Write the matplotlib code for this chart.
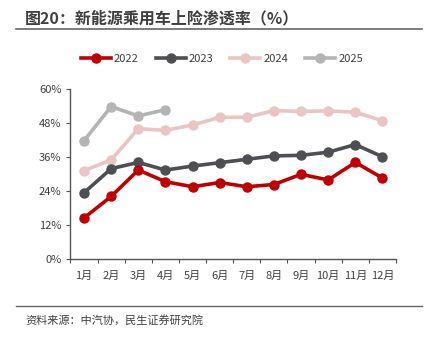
import matplotlib.pyplot as plt
from matplotlib.lines import Line2D

plt.rcParams['font.family'] = ['Noto Sans CJK SC', 'DejaVu Sans']

months = ['1月', '2月', '3月', '4月', '5月', '6月', '7月', '8月', '9月', '10月', '11月', '12月']
years = ['2022', '2023', '2024', '2025']
rate_2022 = [14.6, 22.2, 31.5, 27.4, 25.6, 27.1, 25.6, 26.4, 30.0, 28.0, 34.2, 28.7]
rate_2023 = [23.5, 32.0, 34.2, 31.5, 32.9, 34.1, 35.3, 36.5, 36.7, 37.8, 40.5, 36.2]
rate_2024 = [31.3, 35.1, 46.1, 45.5, 47.4, 50.1, 50.1, 52.5, 52.2, 52.4, 51.9, 48.9]
rate_2025 = [41.9, 53.9, 50.6, 52.8]
y_ticks = [0, 12, 24, 36, 48, 60]

colors = ['#C00000', '#4D4F52', '#EBC4C4', '#B4B4B4']
series = [rate_2022, rate_2023, rate_2024, rate_2025]

fig = plt.figure(figsize=(4.31, 3.37), dpi=100)
ax = fig.add_axes([70.5 / 431, 1 - 259.3 / 337, (396 - 70.5) / 431, 170 / 337])

# draw lighter years first so 2022 sits on top
for vals, c in reversed(list(zip(series, colors))):
    x = [i + 0.5 for i in range(len(vals))]
    ax.plot(x, vals, color=c, lw=2.6, marker='o', ms=6.5, solid_capstyle='round')

ax.set_xlim(0, 12)
ax.set_ylim(0, 60)
ax.set_yticks(y_ticks)
ax.set_yticklabels([f'{t}%' for t in y_ticks])
ax.set_xticks(range(13))
ax.set_xticklabels([])
ax.set_xticks([i + 0.5 for i in range(12)], minor=True)
ax.set_xticklabels(months, minor=True)
ax.tick_params(axis='x', which='minor', length=0, pad=8)
ax.tick_params(axis='x', which='major', length=3, direction='out', color='#555555')
ax.tick_params(axis='y', length=3, color='#555555')
ax.tick_params(which='both', labelsize=8, labelcolor='#404040')
for s in ['top', 'right']:
    ax.spines[s].set_visible(False)
for s in ['left', 'bottom']:
    ax.spines[s].set_color('#555555')
    ax.spines[s].set_linewidth(1.0)

handles = [Line2D([], [], color=c, lw=2.6, marker='o', ms=6.5) for c in colors]
fig.legend(handles, years, loc='center', bbox_to_anchor=(0.515, 1 - 59 / 337), ncol=4,
           frameon=False, fontsize=8, handlelength=2.7, handletextpad=0.3,
           columnspacing=1.5, labelcolor='#404040')

fig.text(25 / 431, 1 - 18 / 337, '图20：新能源乘用车上险渗透率（%）', fontsize=11.5,
         fontweight='bold', color='#404040', va='center', ha='left')
fig.add_artist(Line2D([16 / 431, 422 / 431], [1 - 29 / 337] * 2, color='#666666', lw=1.2))
fig.add_artist(Line2D([16 / 431, 422 / 431], [1 - 306 / 337] * 2, color='#666666', lw=1.0))
fig.text(25 / 431, 1 - 320.5 / 337, '资料来源：中汽协，民生证券研究院', fontsize=8,
         color='#404040', va='center', ha='left')

fig.savefig('out.png', dpi=100)
